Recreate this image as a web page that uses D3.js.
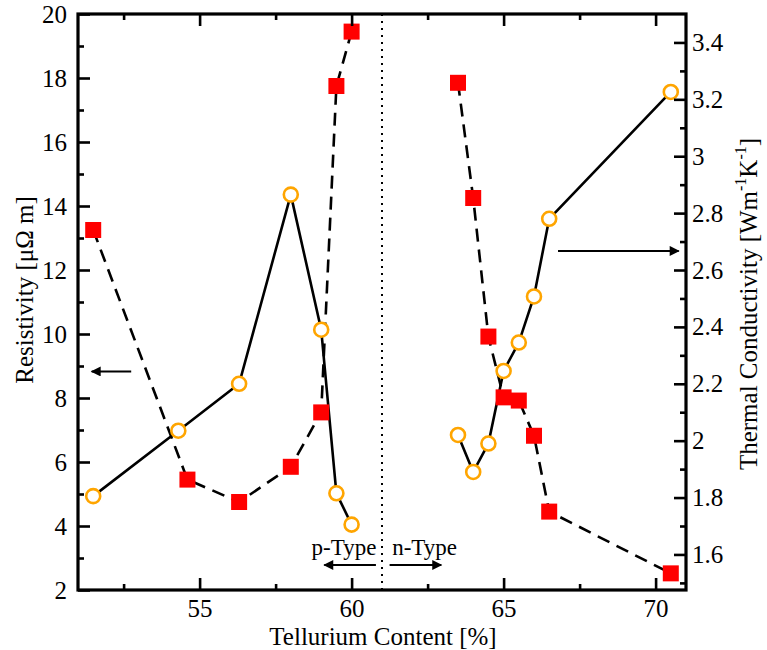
<!DOCTYPE html>
<html><head><meta charset="utf-8">
<script src="https://cdn.jsdelivr.net/npm/d3@7"></script>
<style>body{margin:0;background:#fff}</style>
</head><body>
<svg id="c" width="767" height="650"></svg>
<script>
// p-type data
const pX_res = [51.5, 54.6, 56.3, 58.0, 59.0, 59.5, 60.0];
const pRes   = [13.25, 5.45, 4.75, 5.85, 7.55, 17.75, 19.45];
const pX_tc  = [51.5, 54.3, 56.3, 58.0, 59.0, 59.5, 60.0];
const pTC    = [1.805, 2.035, 2.2, 2.865, 2.39, 1.815, 1.705];
// n-type data
const nX     = [63.5, 64.0, 64.5, 65.0, 65.5, 66.0, 66.5, 70.5];
const nRes   = [17.85, 14.25, 9.92, 8.02, 7.92, 6.82, 4.45, 2.52];
const nTC    = [2.02, 1.89, 1.99, 2.245, 2.345, 2.507, 2.78, 3.226];
// ticks
const xMajor = [55, 60, 65, 70];
const xMinor = [52.5, 57.5, 62.5, 67.5];
const yLMajor = [2,4,6,8,10,12,14,16,18,20];
const yLMinor = [3,5,7,9,11,13,15,17,19];
const yRMajor = [1.6,1.8,2.0,2.2,2.4,2.6,2.8,3.0,3.2,3.4];
const yRMinor = [1.5,1.7,1.9,2.1,2.3,2.5,2.7,2.9,3.1,3.3];

const L = 78, R = 686, T = 14, B = 590;
const svg = d3.select('#c');
const x = d3.scaleLinear().domain([51, 71]).range([L, R]);
const yL = d3.scaleLinear().domain([2, 20]).range([B, T]);
const yR = d3.scaleLinear().domain([1.475, 3.5]).range([B, T]);
const font = '"Liberation Serif", "Times New Roman", serif';

// separator
svg.append('line').attr('x1', x(61)).attr('x2', x(61)).attr('y1', T).attr('y2', B)
  .attr('stroke', '#000').attr('stroke-width', 2).attr('stroke-dasharray', '2,5');

// lines
const lineRes = d3.line().x(d => x(d[0])).y(d => yL(d[1]));
const lineTC = d3.line().x(d => x(d[0])).y(d => yR(d[1]));
const pResPts = pX_res.map((v,i)=>[v,pRes[i]]);
const nResPts = nX.map((v,i)=>[v,nRes[i]]);
const pTCPts = pX_tc.map((v,i)=>[v,pTC[i]]);
const nTCPts = nX.map((v,i)=>[v,nTC[i]]);
[pResPts, nResPts].forEach(pts => svg.append('path').attr('d', lineRes(pts))
  .attr('fill','none').attr('stroke','#000').attr('stroke-width',2.6).attr('stroke-dasharray','13,8'));
[pTCPts, nTCPts].forEach(pts => svg.append('path').attr('d', lineTC(pts))
  .attr('fill','none').attr('stroke','#000').attr('stroke-width',2.6));

// markers
svg.selectAll('rect.sq').data(pResPts.concat(nResPts)).enter().append('rect')
  .attr('x', d => x(d[0]) - 8).attr('y', d => yL(d[1]) - 8)
  .attr('width', 16).attr('height', 16).attr('fill', '#ff0000');
svg.selectAll('circle.ci').data(pTCPts.concat(nTCPts)).enter().append('circle')
  .attr('cx', d => x(d[0])).attr('cy', d => yR(d[1])).attr('r', 7)
  .attr('fill', '#fff').attr('stroke', '#ffa500').attr('stroke-width', 2.6);

// axes (ticks inward)
const gB = svg.append('g').attr('transform', `translate(0,${B})`)
  .call(d3.axisBottom(x).tickValues(xMajor).tickSize(-12).tickPadding(9).tickFormat(d3.format('d')));
const gBm = svg.append('g').attr('transform', `translate(0,${B})`)
  .call(d3.axisBottom(x).tickValues(xMinor).tickSize(-6).tickFormat(''));
const gT = svg.append('g').attr('transform', `translate(0,${T})`)
  .call(d3.axisTop(x).tickValues(xMajor).tickSize(-12).tickFormat(''));
const gTm = svg.append('g').attr('transform', `translate(0,${T})`)
  .call(d3.axisTop(x).tickValues(xMinor).tickSize(-6).tickFormat(''));
const gL = svg.append('g').attr('transform', `translate(${L},0)`)
  .call(d3.axisLeft(yL).tickValues(yLMajor).tickSize(-12).tickPadding(11).tickFormat(d3.format('d')));
const gLm = svg.append('g').attr('transform', `translate(${L},0)`)
  .call(d3.axisLeft(yL).tickValues(yLMinor).tickSize(-6).tickFormat(''));
const gR = svg.append('g').attr('transform', `translate(${R},0)`)
  .call(d3.axisRight(yR).tickValues(yRMajor).tickSize(-12).tickPadding(6).tickFormat(d => String(+d.toFixed(1))));
const gRm = svg.append('g').attr('transform', `translate(${R},0)`)
  .call(d3.axisRight(yR).tickValues(yRMinor).tickSize(-6).tickFormat(''));
[gB,gBm,gT,gTm,gL,gLm,gR,gRm].forEach(g => {
  g.select('.domain').remove();
  g.selectAll('line').attr('stroke','#000').attr('stroke-width',2.6);
  g.selectAll('text').attr('font-family', font).attr('font-size', 25).attr('fill','#000');
});

// frame
svg.append('rect').attr('x', L).attr('y', T).attr('width', R-L).attr('height', B-T)
  .attr('fill','none').attr('stroke','#000').attr('stroke-width',3.2);

// titles
svg.append('text').attr('x', (L+R)/2 + 1).attr('y', 645).attr('text-anchor','middle')
  .attr('font-family', font).attr('font-size', 25).text('Tellurium Content [%]');
svg.append('text').attr('transform', `translate(33,290) rotate(-90)`).attr('text-anchor','middle')
  .attr('font-family', font).attr('font-size', 25).text('Resistivity [μΩ m]');
const rt = svg.append('text').attr('transform', `translate(757,304) rotate(-90)`).attr('text-anchor','middle')
  .attr('font-family', font).attr('font-size', 25);
rt.append('tspan').text('Thermal Conductivity [Wm');
rt.append('tspan').attr('font-size', 16).attr('dy', -11).text('-1');
rt.append('tspan').attr('dy', 11).text('K');
rt.append('tspan').attr('font-size', 16).attr('dy', -11).text('-1');
rt.append('tspan').attr('dy', 11).text(']');

// arrows
const defs = svg.append('defs');
defs.append('marker').attr('id','ah').attr('viewBox','0 0 10 10').attr('refX',9).attr('refY',5)
  .attr('markerWidth',20).attr('markerHeight',10).attr('markerUnits','userSpaceOnUse').attr('orient','auto')
  .append('path').attr('d','M0,0 L10,5 L0,10 Z').attr('fill','#000');
function arrow(x1,y1,x2,y2){
  svg.append('line').attr('x1',x1).attr('y1',y1).attr('x2',x2).attr('y2',y2)
    .attr('stroke','#000').attr('stroke-width',2).attr('marker-end','url(#ah)');
}
arrow(x(52.75), yL(8.83), x(51.45), yL(8.83));
arrow(x(66.79), yR(2.667), x(70.76), yR(2.667));
arrow(x(60.8), 565, x(59.1), 565);
arrow(x(61.25), 565, x(62.95), 565);
svg.append('text').attr('x', x(59.75)).attr('y', 555).attr('text-anchor','middle')
  .attr('font-family', font).attr('font-size', 23).text('p-Type');
svg.append('text').attr('x', x(62.4)).attr('y', 555).attr('text-anchor','middle')
  .attr('font-family', font).attr('font-size', 23).text('n-Type');
</script>
</body></html>
